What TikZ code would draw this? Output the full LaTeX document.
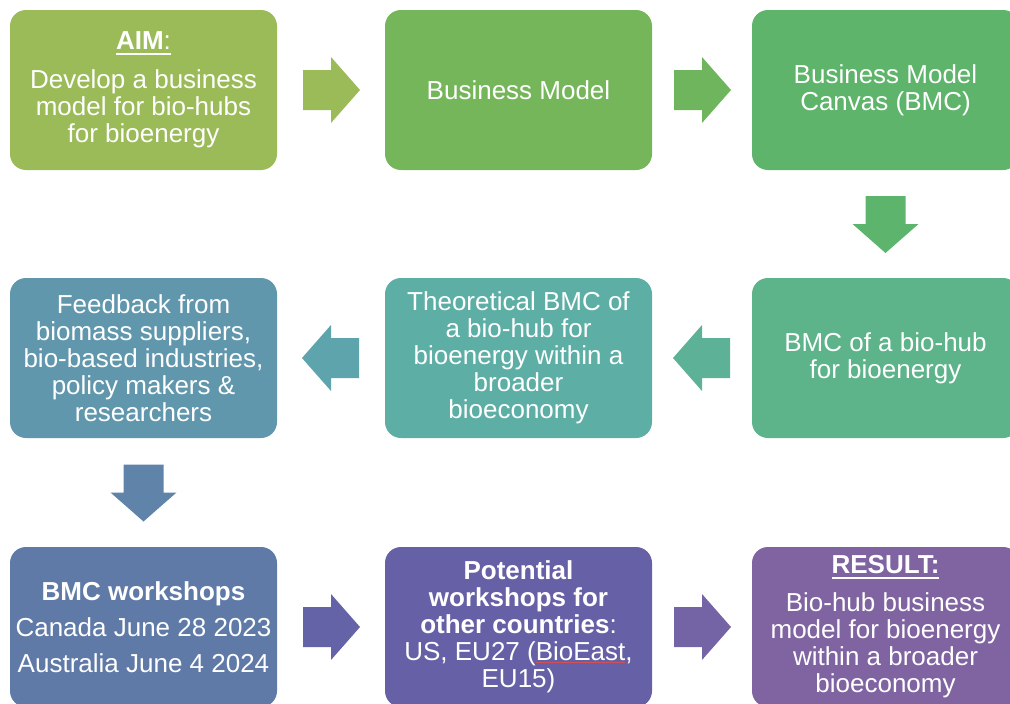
\documentclass[tikz,border=0pt]{standalone}
\usepackage{fontspec}
\setmainfont{Liberation Sans}
\usetikzlibrary{calc}

% stage colours, green through teal and blue to purple
\definecolor{cAim}{HTML}{9BBB59}
\definecolor{cArrA}{HTML}{9ABB58}
\definecolor{cBm}{HTML}{76B65A}
\definecolor{cArrB}{HTML}{6FB55E}
\definecolor{cBmc}{HTML}{5DB46A}
\definecolor{cArrC}{HTML}{5DB46C}
\definecolor{cHub}{HTML}{5DB38A}
\definecolor{cArrD}{HTML}{5CB197}
\definecolor{cTheo}{HTML}{5DAFA6}
\definecolor{cArrE}{HTML}{5EA4AD}
\definecolor{cFeed}{HTML}{6097AD}
\definecolor{cArrF}{HTML}{6083AA}
\definecolor{cWs}{HTML}{607AA8}
\definecolor{cArrG}{HTML}{6463A7}
\definecolor{cPot}{HTML}{6661A6}
\definecolor{cArrH}{HTML}{7564A5}
\definecolor{cRes}{HTML}{8064A2}
\definecolor{spellred}{HTML}{D0505A}

% thick underline for headings
\newsavebox{\ulbx}
\newcommand{\ulword}[1]{\sbox{\ulbx}{#1}\rlap{\rule[-5pt]{\wd\ulbx}{2.2pt}}\usebox{\ulbx}}
% thin red line under a word
\newcommand{\redmark}[1]{\sbox{\ulbx}{#1}\rlap{\color{spellred}\rule[-2.5pt]{\wd\ulbx}{0.8pt}}\usebox{\ulbx}}

% block arrow centred halfway between two anchors
\newcommand{\flowarrow}[4]{%
  \begin{scope}[shift={($(#1)!0.5!(#2)$)}, rotate=#3]
    \fill[#4] (-28,-20) -- (0,-20) -- (0,-33) -- (29,0) -- (0,33) -- (0,20) -- (-28,20) -- cycle;
  \end{scope}}

\tikzset{
  stage/.style={rectangle, rounded corners=16pt, minimum width=267pt,
    minimum height=160pt, inner sep=0pt, text=white, align=center,
    font=\fontsize{26}{27}\selectfont}
}

\begin{document}
\begin{tikzpicture}[x=1pt,y=-1pt]
\useasboundingbox (0,0) rectangle (1010,704);
\clip (0,0) rectangle (1010,704);

% first row
\node[stage, fill=cAim] (aim) at (143.5,90)
  {\ulword{\textbf{AIM}:}\\[12pt]Develop a business\\model for bio-hubs\\for bioenergy};
\node[stage, fill=cBm] (bm) at (518.5,90) {Business Model};
\node[stage, fill=cBmc] (bmc) at (885.5,90) {Business Model\\Canvas (BMC)};

% second row
\node[stage, fill=cHub] (hub) at (885.5,358) {BMC of a bio-hub\\for bioenergy};
\node[stage, fill=cTheo] (theo) at (518.5,358)
  {Theoretical BMC of\\a bio-hub for\\bioenergy within a\\broader\\bioeconomy};
\node[stage, fill=cFeed] (feed) at (143.5,358)
  {Feedback from\\biomass suppliers,\\bio-based industries,\\policy makers \&\\researchers};

% third row
\node[stage, fill=cWs] (ws) at (143.5,627)
  {\textbf{BMC workshops}\\[9pt]Canada June 28 2023\\[9pt]Australia June 4 2024};
\node[stage, fill=cPot] (pot) at (518.5,627)
  {\textbf{Potential}\\\textbf{workshops for}\\\textbf{other countries}:\\US, EU27 (\redmark{BioEast},\\EU15)};
\node[stage, fill=cRes] (res) at (885.5,627)
  {\ulword{\textbf{RESULT:}}\\[11pt]Bio-hub business\\model for bioenergy\\within a broader\\bioeconomy};

% flow arrows
\flowarrow{aim.east}{bm.west}{0}{cArrA}
\flowarrow{bm.east}{bmc.west}{0}{cArrB}
\flowarrow{bmc.south}{hub.north}{-90}{cArrC}
\flowarrow{hub.west}{theo.east}{180}{cArrD}
\flowarrow{theo.west}{feed.east}{180}{cArrE}
\flowarrow{feed.south}{ws.north}{-90}{cArrF}
\flowarrow{ws.east}{pot.west}{0}{cArrG}
\flowarrow{pot.east}{res.west}{0}{cArrH}
\end{tikzpicture}
\end{document}
